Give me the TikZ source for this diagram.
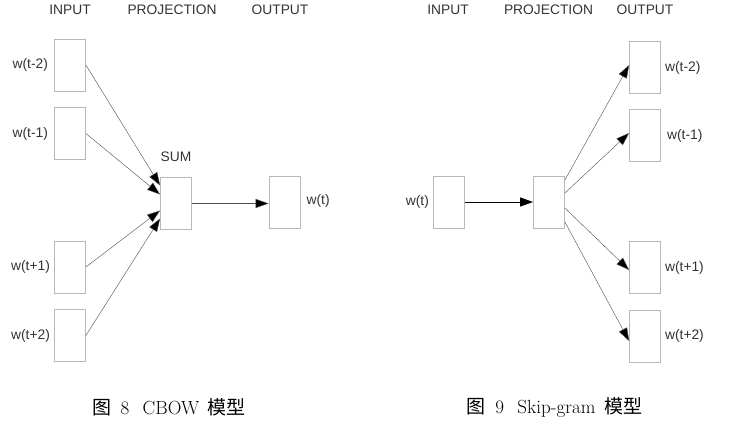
\documentclass[tikz,border=0pt]{standalone}
\usepackage{fontspec}
\newfontfamily\labelfont{Liberation Sans}
\newfontfamily\cjk{Noto Sans CJK SC}
\usetikzlibrary{arrows.meta, positioning}
\tikzstyle{wordbox} = [
  rectangle,
  minimum width=31pt,
  minimum height=52pt,
  inner sep=0,
  draw=black!28,
  line width=0.8pt
]
\tikzstyle{header} = [
  font=\labelfont\fontsize{13.8}{16}\selectfont,
  text=black!80,
  inner sep=0
]
\tikzstyle{wordlabel} = [header]
\tikzstyle{arrow} = [
  line width=0.4pt,
  color=black!70,
  -{Triangle[length=13pt,width=9pt,fill=black]}
]
\tikzstyle{boldarrow} = [
  line width=1pt,
  color=black,
  -{Triangle[length=13pt,width=9pt,fill=black]}
]
\tikzstyle{capt} = [
  font=\fontsize{19}{21}\selectfont,
  inner sep=0
]

\begin{document}
\begin{tikzpicture}[x=1pt, y=1pt, node distance=6pt]
    \useasboundingbox (0,0) rectangle (730,432);

    \node (cinput) [header] at (70,422) {INPUT};
    \node (cprojection) [header] at (172,422) {PROJECTION};
    \node (coutput) [header] at (280,422) {OUTPUT};

    \node (c1) [wordbox] at (70,367) {};
    \node (c2) [wordbox] at (70,298.5) {};
    \node (c3) [wordbox] at (70,165) {};
    \node (c4) [wordbox] at (70,96.5) {};
    \node (csum) [wordbox] at (176,228.5) {};
    \node (cw) [wordbox] at (284.5,229.5) {};

    \node (lc1) [wordlabel, left=6pt of c1] {w(t-2)};
    \node (lc2) [wordlabel, left=6pt of c2] {w(t-1)};
    \node (lc3) [wordlabel, left=4pt of c3] {w(t+1)};
    \node (lc4) [wordlabel, left=4pt of c4] {w(t+2)};
    \node (lsum) [wordlabel, above=15pt of csum] {SUM};
    \node (lcw) [wordlabel, right=6pt of cw, yshift=2pt] {w(t)};

    \draw [arrow] (c1.east) -- ([yshift=18pt]csum.west);
    \draw [arrow] (c2.east) -- ([yshift=9pt]csum.west);
    \draw [arrow] (c3.east) -- ([yshift=-7pt]csum.west);
    \draw [arrow] (c4.east) -- ([yshift=-15pt]csum.west);
    \draw [arrow] (csum.east) -- (csum.east -| cw.west);

    \node (sinput) [header] at (448,422) {INPUT};
    \node (sprojection) [header] at (548.5,422) {PROJECTION};
    \node (soutput) [header] at (645,422) {OUTPUT};

    \node (s0) [wordbox] at (449,230) {};
    \node (sp) [wordbox] at (549,230) {};
    \node (s1) [wordbox] at (645,364.5) {};
    \node (s2) [wordbox] at (645,296.5) {};
    \node (s3) [wordbox] at (645,164.5) {};
    \node (s4) [wordbox] at (645,96) {};

    \node (ls0) [wordlabel, left=4pt of s0] {w(t)};
    \node (ls1) [wordlabel, right=4pt of s1] {w(t-2)};
    \node (ls2) [wordlabel, right=6pt of s2] {w(t-1)};
    \node (ls3) [wordlabel, right=4pt of s3] {w(t+1)};
    \node (ls4) [wordlabel, right=4pt of s4] {w(t+2)};

    \draw [boldarrow] (s0.east) -- (sp.west);
    \draw [arrow] ([yshift=22pt]sp.east) -- ([yshift=2.5pt]s1.west);
    \draw [arrow] ([yshift=9pt]sp.east) -- ([yshift=2.5pt]s2.west);
    \draw [arrow] ([yshift=-6pt]sp.east) -- ([yshift=-2.5pt]s3.west);
    \draw [arrow] ([yshift=-20pt]sp.east) -- ([yshift=-5pt]s4.west);

    \node (capcbow) [capt] at (169,25) {{\cjk 图}\hspace{0.5em}8\hspace{0.7em}CBOW\hspace{0.45em}{\cjk 模型}};
    \node (capskip) [capt] at (554.5,25) {{\cjk 图}\hspace{0.5em}9\hspace{0.7em}Skip-gram\hspace{0.45em}{\cjk 模型}};

\end{tikzpicture}
\end{document}
